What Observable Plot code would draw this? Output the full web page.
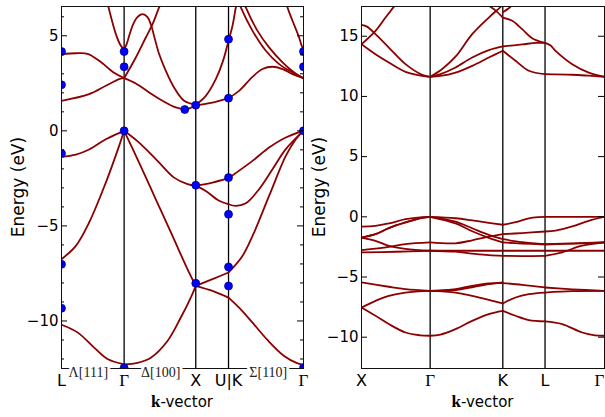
<!DOCTYPE html>
<html>
<head>
<meta charset="utf-8">
<script src="https://cdn.jsdelivr.net/npm/d3@7"></script>
<script src="https://cdn.jsdelivr.net/npm/@observablehq/plot@0.6"></script>
<style>
  html, body { margin: 0; padding: 0; background: #fff; }
  #wrap { position: relative; width: 605px; height: 417px; overflow: hidden; font-family: "DejaVu Sans", sans-serif; color: #000; }
  .panel { position: absolute; top: 0; }
  .ylab { position: absolute; width: 200px; height: 20px; line-height: 20px; text-align: center; font-size: 17px; transform: rotate(-90deg); white-space: nowrap; }
  .xlab { position: absolute; width: 200px; line-height: 20px; text-align: center; font-size: 15px; white-space: nowrap; }
  .xlab b { font-family: "Liberation Serif", "DejaVu Serif", serif; font-weight: bold; font-size: 17px; }
</style>
</head>
<body>
<div id="wrap"></div>
<script>
// ---------------- LEFT PANEL (L – Γ – X – U|K – Γ) ----------------
const leftSymK = [0, 0.866, 1.857, 2.310, 3.347];
const leftSymLabels = ["L", "Γ", "X", "U|K", "Γ"];
const leftDirK = [0.371, 1.373, 2.86];
const leftDirLabels = ["Λ[111]", "Δ[100]", "Σ[110]"];
const leftYTicks = [5, 0, -5, -10];
const leftYDomain = [-12.5, 6.54];

// each band: list of smooth pieces, each piece a list of [k, E(eV)]
const leftBand1 = [
  [[0,-10.2],[0.221,-10.6],[0.451,-11.4],[0.636,-12.0],[0.866,-12.28]],
  [[0.866,-12.28],[1.05,-12.2],[1.235,-11.93],[1.466,-11.05],[1.65,-9.82],[1.788,-8.77],[1.857,-8.15]],
  [[1.857,-8.15],[2.088,-8.42],[2.310,-8.77]],
  [[2.310,-8.77],[2.456,-9.3],[2.642,-10.09],[2.849,-11.0],[3.079,-11.84],[3.25,-12.2],[3.347,-12.3]]
];
const leftBand2 = [
  [[0,-6.75],[0.198,-6.05],[0.382,-4.82],[0.613,-2.72],[0.797,-0.79],[0.866,0]],
  [[0.866,0],[1.073,-1.67],[1.304,-3.6],[1.535,-5.53],[1.765,-7.46],[1.857,-8.15]],
  [[1.857,-8.15],[2.088,-7.8],[2.310,-7.45]],
  [[2.310,-7.45],[2.503,-6.58],[2.642,-5.53],[2.871,-3.42],[3.102,-1.32],[3.241,-0.44],[3.347,0]]
];
const leftBand3 = [
  [[0,-1.37],[0.198,-1.25],[0.382,-0.98],[0.613,-0.44],[0.866,0]],
  [[0.866,0],[1.073,-0.62],[1.328,-1.58],[1.557,-2.46],[1.743,-2.8],[1.857,-2.88]],
  [[1.857,-2.88],[2.088,-2.72],[2.310,-2.49]],
  [[2.310,-2.49],[2.642,-1.58],[2.871,-0.88],[3.102,-0.35],[3.347,0]]
];
const leftBand4 = [
  [[1.857,-2.88],[1.996,-3.16],[2.180,-3.68],[2.310,-3.86]],
  [[2.310,-3.86],[2.411,-3.95],[2.549,-3.81],[2.733,-3.07],[2.918,-2.02],[3.102,-0.96],[3.347,0]]
];
const leftBand5 = [
  [[0,1.58],[0.382,1.93],[0.613,2.37],[0.797,2.72],[0.866,2.77]],
  [[0.866,2.77],[1.028,2.49],[1.212,2.02],[1.397,1.58],[1.581,1.23],[1.719,1.14],[1.857,1.35]],
  [[1.857,1.35],[2.088,1.49],[2.310,1.72]],
  [[2.310,1.72],[2.456,2.1],[2.642,2.84],[2.780,3.25],[2.918,3.37],[3.057,3.25],[3.195,2.98],[3.347,2.77]]
];
const leftBand6 = [
  [[0,4.04],[0.2,4.08],[0.36,4.05],[0.544,3.62],[0.728,3.05],[0.866,2.77]]
];
const leftBand7 = [
  [[0.866,2.77],[1.028,3.86],[1.166,4.91],[1.259,5.61],[1.35,6.49],[1.42,7.1]]
];
const leftBand8 = [
  [[0.866,4.3],[0.9,4.55],[0.94,5.05],[0.99,5.6],[1.05,5.98],[1.12,6.14],[1.19,5.98],[1.24,5.55],[1.29,4.85],[1.35,4.04],[1.443,3.16],[1.557,2.28],[1.696,1.58],[1.857,1.37]]
];
const leftBand9 = [
  [[0.6,7.3],[0.65,6.5],[0.705,5.7],[0.751,5.1],[0.8,4.62],[0.835,4.4],[0.866,4.3]]
];
const leftBand10 = [
  [[1.857,1.37],[1.996,1.84],[2.134,2.72],[2.227,3.6],[2.310,4.74]],
  [[2.310,4.74],[2.365,5.53],[2.411,6.49],[2.46,7.3]]
];
const leftBand11 = [
  [[2.42,7.1],[2.480,6.49],[2.642,5.26],[2.826,4.21],[3.010,3.51],[3.195,3.07],[3.347,2.77]]
];
const leftBand12 = [
  [[2.49,7.1],[2.549,6.49],[2.711,5.26],[2.871,4.39],[3.057,3.6],[3.217,3.07],[3.347,2.77]]
];
const leftBand13 = [
  [[3.08,7.2],[3.126,6.49],[3.195,5.79],[3.286,4.91],[3.32,4.5],[3.347,4.3]]
];
const leftBands = [leftBand1, leftBand2, leftBand3, leftBand4, leftBand5, leftBand6, leftBand7,
  leftBand8, leftBand9, leftBand10, leftBand11, leftBand12, leftBand13];

const leftDotK = [0, 0, 0, 0, 0, 0.866, 0.866, 0.866, 0.866, 1.705, 1.857, 1.857, 1.857,
  2.310, 2.310, 2.310, 2.310, 2.310, 2.310, 3.347, 3.347, 3.347, 3.347];
const leftDotE = [4.17, 2.42, -1.19, -7.02, -9.33, 4.17, 3.37, 0, -12.46, 1.12, 1.35, -2.86, -8.02,
  4.82, 1.72, -2.46, -4.39, -7.16, -8.16, 4.17, 3.37, 0, -12.46];

// ---------------- RIGHT PANEL (X – Γ – K – L – Γ) ----------------
const rightSymK = [0, 1, 2.058, 2.673, 3.539];
const rightSymLabels = ["X", "Γ", "K", "L", "Γ"];
const rightYTicks = [15, 10, 5, 0, -5, -10];
const rightYDomain = [-12.6, 17.47];

const rightBandA = [[[0,15.95],[0.08,15.8],[0.204,15.17],[0.398,14.06],[0.641,12.68],[0.884,11.79],[1,11.63]]];
const rightBandB = [[[0,14.34],[0.204,13.51],[0.398,12.82],[0.641,12.04],[0.884,11.7],[1,11.63]]];
const rightBandC = [[[0,14.34],[0.204,15.45],[0.35,16.55],[0.47,17.44],[0.56,18.1]]];
const rightBandD = [
  [[1,11.63],[1.15,11.7],[1.369,11.98],[1.612,12.54],[1.854,13.23],[2.058,13.79]],
  [[2.058,13.79],[2.243,12.96],[2.437,12.13],[2.673,11.85]],
  [[2.673,11.85],[3.069,11.8],[3.31,11.72],[3.539,11.63]]
];
const rightBandE = [
  [[1,11.63],[1.15,11.85],[1.369,12.4],[1.612,13.23],[1.854,13.84],[2.058,14.15]],
  [[2.058,14.15],[2.34,14.32],[2.54,14.45],[2.673,14.45]],
  [[2.673,14.45],[2.75,14.25],[2.826,13.79],[3.069,12.68],[3.31,11.98],[3.539,11.63]]
];
const rightBandF = [[[1,11.63],[1.18,12.3],[1.369,13.3],[1.612,15.17],[1.854,16.55],[2.0,17.3],[2.058,17.6]]];
const rightBandH = [
  [[1.75,18.0],[1.85,17.55],[1.95,17.15],[2.058,16.55]],
  [[2.058,16.55],[2.195,16.28],[2.34,15.59],[2.486,14.84],[2.673,14.45]]
];
const rightBandI = [[[2.058,17.0],[2.15,17.35],[2.25,17.9]]];

const rightV1 = [
  [[0,-0.81],[0.204,-0.75],[0.398,-0.55],[0.641,-0.2],[0.884,-0.02],[1,0]],
  [[1,0],[1.369,-0.12],[1.612,-0.3],[1.854,-0.5],[2.058,-0.66]],
  [[2.058,-0.66],[2.243,-0.45],[2.437,-0.12],[2.58,-0.02],[2.673,0]],
  [[2.673,0],[3.1,0],[3.539,0]]
];
const rightV2 = [
  [[0,-1.72],[0.204,-1.44],[0.398,-0.94],[0.641,-0.47],[0.884,-0.08],[1,0]],
  [[1,0],[1.369,-0.4],[1.612,-0.95],[1.854,-1.5],[2.058,-1.86]],
  [[2.058,-1.86],[2.34,-2.1],[2.673,-2.27]],
  [[2.673,-2.27],[3.1,-2.2],[3.539,-2.13]]
];
const rightV3 = [
  [[0,-1.72],[0.204,-1.44],[0.398,-0.94],[0.641,-0.47],[0.884,-0.08],[1,0]],
  [[1,0],[1.369,-0.55],[1.612,-1.2],[1.854,-1.75],[2.058,-2.13]],
  [[2.058,-2.13],[2.34,-2.22],[2.673,-2.3]],
  [[2.673,-2.3],[3.1,-2.22],[3.539,-2.13]]
];
const rightV4 = [
  [[0,-1.72],[0.204,-1.99],[0.398,-2.41],[0.641,-2.66],[1,-2.82]],
  [[1,-2.82],[1.369,-2.9],[1.612,-3.05],[1.854,-3.18],[2.058,-3.24]],
  [[2.058,-3.24],[2.34,-3.26],[2.673,-3.24]],
  [[2.673,-3.24],[2.923,-2.95],[3.214,-2.4],[3.539,-2.13]]
];
const rightV5 = [
  [[0,-2.77],[0.398,-2.49],[0.641,-2.27],[1,-2.13]],
  [[1,-2.13],[1.369,-2.2],[1.612,-1.95],[1.854,-1.65],[2.058,-1.44]],
  [[2.058,-1.44],[2.34,-1.35],[2.673,-1.22]],
  [[2.673,-1.22],[2.826,-1.15],[3.069,-0.8],[3.31,-0.33],[3.539,0]]
];
const rightV6 = [
  [[0,-2.96],[0.5,-2.9],[1,-2.82]],
  [[1,-2.82],[1.5,-2.82],[2.058,-2.82]],
  [[2.058,-2.82],[2.673,-2.82]],
  [[2.673,-2.82],[3.539,-2.82]]
];
const rightB1 = [
  [[0,-7.53],[0.204,-8.22],[0.398,-8.91],[0.641,-9.61],[0.85,-9.84],[1,-9.88]],
  [[1,-9.88],[1.15,-9.78],[1.369,-9.33],[1.612,-8.64],[1.854,-8.08],[2.058,-7.81]],
  [[2.058,-7.81],[2.243,-8.22],[2.437,-8.58],[2.673,-8.69]],
  [[2.673,-8.69],[2.923,-8.91],[3.214,-9.61],[3.4,-9.84],[3.539,-9.88]]
];
const rightB2 = [
  [[0,-7.53],[0.204,-6.98],[0.398,-6.56],[0.641,-6.29],[1,-6.15]],
  [[1,-6.15],[1.369,-6.29],[1.612,-6.56],[1.854,-6.89],[2.058,-7.2]],
  [[2.058,-7.2],[2.243,-6.7],[2.437,-6.42],[2.673,-6.29]],
  [[2.673,-6.29],[3.069,-6.18],[3.539,-6.15]]
];
const rightB3 = [
  [[0,-5.45],[0.398,-5.81],[0.641,-6.0],[1,-6.15]],
  [[1,-6.15],[1.369,-6.0],[1.612,-5.73],[1.854,-5.53],[2.058,-5.5]],
  [[2.058,-5.5],[2.34,-5.65],[2.673,-5.87]],
  [[2.673,-5.87],[3.069,-6.02],[3.539,-6.15]]
];
const rightB4 = [
  [[1,-6.15],[1.369,-6.08],[1.612,-5.85],[1.854,-5.6],[2.058,-5.45]]
];
const rightBands = [rightBandA, rightBandB, rightBandC, rightBandD, rightBandE, rightBandF, rightBandH, rightBandI,
  rightV1, rightV2, rightV3, rightV4, rightV5, rightV6, rightB1, rightB2, rightB3, rightB4];

// ---------------- drawing ----------------
const BAND_COLOR = "#8b0000";
const SANS = "DejaVu Sans";
const SERIF = "Liberation Serif";

function toRows(bands) {
  const rows = [];
  bands.forEach((band, b) => band.forEach((seg, s) =>
    seg.forEach(([k, e]) => rows.push({k, e, id: b + "-" + s}))));
  return rows;
}

function panel({width, marginLeft, marginRight, xDomain, yDomain, yTicks, minorTicks, symK, symLabels, dirK, dirLabels, bands, dots, lastDx}) {
  const frameW = width - marginLeft - marginRight;
  const symData = symK.map((k, i) => ({k, label: symLabels[i], last: i === symK.length - 1}));
  const dirData = (dirK || []).map((k, i) => ({k, label: dirLabels[i]}));
  const marks = [
    Plot.ruleX(symK.slice(1, -1), {stroke: "black", strokeWidth: 1.3}),
    Plot.line(toRows(bands), {x: "k", y: "e", z: "id", stroke: BAND_COLOR, strokeWidth: 1.8, curve: "catmull-rom", clip: true}),
  ];
  if (dots) {
    marks.push(Plot.dot(dots, {x: "k", y: "e", r: 4, fill: "#0000ff", stroke: "#00006a", strokeWidth: 0.7, clip: true}));
  }
  marks.push(
    Plot.frame({stroke: "#111", strokeWidth: 1}),
    Plot.tickY(yTicks, {y: d => d, insetRight: frameW - 6, stroke: "black"}),
    Plot.tickY(yTicks, {y: d => d, insetLeft: frameW - 6, stroke: "black"}),
    Plot.axisY(yTicks, {tickSize: 0, tickPadding: 3, tickFormat: d3.format("d"), fontSize: 15, fontFamily: SANS, label: null})
  );
  if (minorTicks) {
    marks.push(
      Plot.tickY(minorTicks, {y: d => d, insetRight: frameW - 3, stroke: "black"}),
      Plot.tickY(minorTicks, {y: d => d, insetLeft: frameW - 3, stroke: "black"})
    );
  }
  const sansLab = symData.filter(d => d.label !== "Γ");
  const serifLab = symData.filter(d => d.label === "Γ" && !(d.last && lastDx));
  const serifLast = symData.filter(d => d.label === "Γ" && d.last && lastDx);
  marks.push(
    Plot.text(sansLab, {x: "k", text: "label", frameAnchor: "bottom", dy: 12, lineAnchor: "middle", fontSize: 16, fontFamily: SANS, fill: "black"}),
    Plot.text(serifLab, {x: "k", text: "label", frameAnchor: "bottom", dy: 12, lineAnchor: "middle", fontSize: 17, fontFamily: SERIF, fill: "black"})
  );
  if (serifLast.length) {
    marks.push(Plot.text(serifLast, {x: "k", text: "label", frameAnchor: "bottom", dy: 12, dx: lastDx, lineAnchor: "middle", fontSize: 17, fontFamily: SERIF, fill: "black"}));
  }
  if (dirData.length) {
    marks.push(Plot.text(dirData, {x: "k", text: "label", frameAnchor: "bottom", dy: 4, lineAnchor: "middle", fontSize: 14, fontFamily: SERIF, fill: "#222", stroke: "white", strokeWidth: 6, paintOrder: "stroke"}));
  }
  return Plot.plot({
    width, height: 417,
    marginLeft, marginRight, marginTop: 6, marginBottom: 49,
    x: {domain: xDomain, axis: null},
    y: {domain: yDomain, label: null},
    style: {fontFamily: SANS, fontSize: "15px", background: "transparent", overflow: "visible", color: "black"},
    marks
  });
}

const wrap = document.getElementById("wrap");

const minorLeft = d3.range(-12, 7).filter(v => v % 5 !== 0);
const left = panel({
  width: 310, marginLeft: 61, marginRight: 7,
  xDomain: [0, leftSymK[leftSymK.length - 1]], yDomain: leftYDomain,
  yTicks: leftYTicks, minorTicks: minorLeft,
  symK: leftSymK, symLabels: leftSymLabels, dirK: leftDirK, dirLabels: leftDirLabels,
  bands: leftBands,
  dots: leftDotK.map((k, i) => ({k, e: leftDotE[i]})),
  lastDx: 0
});
left.classList.add("panel");
left.style.left = "0px";
wrap.appendChild(left);

const right = panel({
  width: 305, marginLeft: 61, marginRight: 1,
  xDomain: [0, rightSymK[rightSymK.length - 1]], yDomain: rightYDomain,
  yTicks: rightYTicks, minorTicks: null,
  symK: rightSymK, symLabels: rightSymLabels, dirK: null, dirLabels: null,
  bands: rightBands, dots: null,
  lastDx: -5
});
right.classList.add("panel");
right.style.left = "300px";
wrap.appendChild(right);

// axis titles
function addYLabel(cx, cy) {
  const d = document.createElement("div");
  d.className = "ylab";
  d.textContent = "Energy (eV)";
  d.style.left = (cx - 100) + "px";
  d.style.top = (cy - 10) + "px";
  wrap.appendChild(d);
}
function addXLabel(cx, top) {
  const d = document.createElement("div");
  d.className = "xlab";
  d.innerHTML = "<b>k</b>-vector";
  d.style.left = (cx - 100) + "px";
  d.style.top = top + "px";
  wrap.appendChild(d);
}
addYLabel(18, 187);
addYLabel(319, 187);
addXLabel(182, 392);
addXLabel(482.5, 392);
</script>
</body>
</html>
